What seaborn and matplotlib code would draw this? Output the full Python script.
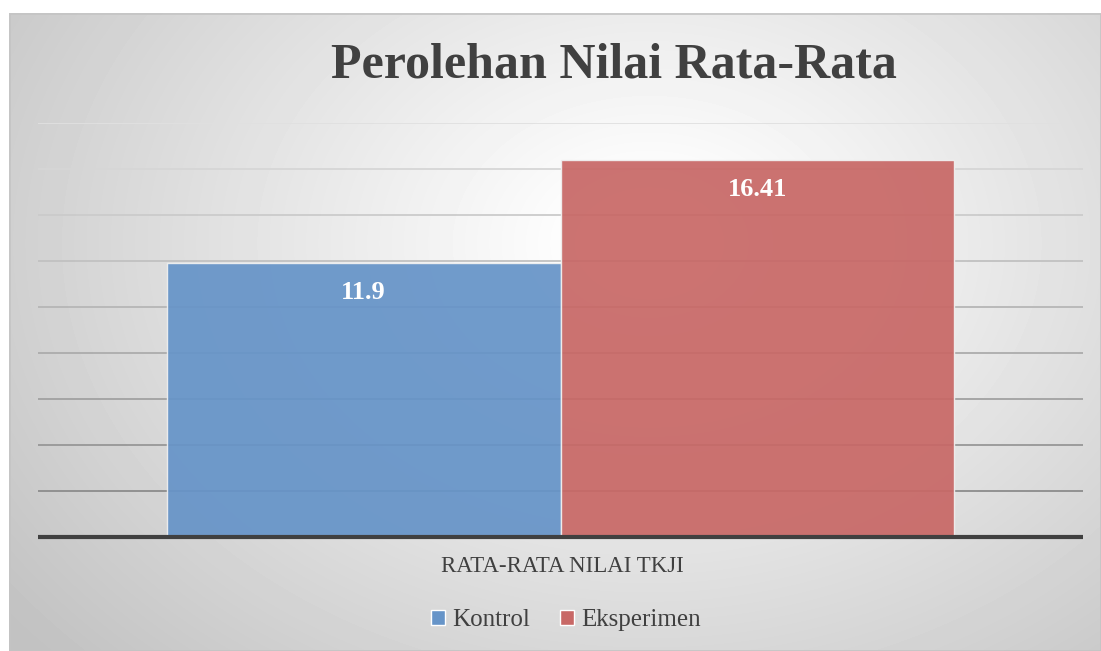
import numpy as np
import pandas as pd
import matplotlib
matplotlib.use("Agg")
import matplotlib.pyplot as plt
import seaborn as sns

# data
kategori = ["RATA-RATA NILAI TKJI"]
kelompok = ["Kontrol", "Eksperimen"]
nilai = [11.9, 16.41]
label_nilai = ["11.9", "16.41"]
warna = ["#6694C8", "#C86866"]

df = pd.DataFrame({
    "kategori": kategori * len(kelompok),
    "kelompok": kelompok,
    "nilai": nilai,
})

sns.set_theme(style="white")
plt.rcParams["font.family"] = ["Liberation Serif", "DejaVu Serif"]

W, H = 1101, 651
fig = plt.figure(figsize=(W / 100, H / 100), dpi=100)
fig.patch.set_facecolor("white")

# latar belakang gradien radial
bg = fig.add_axes([9 / W, 0, (W - 9) / W, (H - 13) / H], zorder=0)
yy, xx = np.mgrid[0:H - 13, 0:W - 9]
d = np.sqrt(((xx - 640) / 1000.0) ** 2 + ((yy - 230) / 750.0) ** 2)
g = np.clip(1.02 - 0.32 * d, 0.76, 1.0)
bg.imshow(g, cmap="gray", vmin=0, vmax=1, aspect="auto", interpolation="bilinear")
bg.set_axis_off()
bg.add_patch(plt.Rectangle((0, 0), W - 10, H - 14, fill=False, edgecolor="#c4c4c4", lw=1.2))

ax = fig.add_axes([38 / W, 114 / H, 1045 / W, 414 / H], zorder=1)
ax.patch.set_alpha(0)

sns.barplot(data=df, x="kategori", y="nilai", hue="kelompok", palette=warna,
            width=0.754, gap=0, saturation=1, ax=ax, legend=False,
            edgecolor="#f0f0f0", linewidth=1, alpha=0.93, zorder=2)

ax.set_xlim(-0.5, 0.5)
ax.set_ylim(0, 18)
ticks = np.arange(2, 19, 2)
grey = np.linspace(0.55, 0.88, len(ticks))
for t, c in zip(ticks, grey):
    ax.axhline(t, color=str(c), lw=1.3, zorder=1)
ax.axhline(0, color="#404040", lw=3, zorder=3, clip_on=False, solid_capstyle="butt")

for p, lab in zip(ax.patches, label_nilai):
    ax.text(p.get_x() + p.get_width() / 2, p.get_height() - 1.28, lab,
            ha="center", va="center", color="white", fontsize=19, fontweight="bold")

ax.set_xticks([])
ax.set_yticks([])
ax.set_xlabel("")
ax.set_ylabel("")
for s in ax.spines.values():
    s.set_visible(False)

fig.text(562 / W, 1 - 567 / H, kategori[0], ha="center", va="center",
         fontsize=16.5, color="#404040")

fig.text(614 / W, 1 - 66 / H, "Perolehan Nilai Rata-Rata", ha="center", va="center",
         fontsize=36, fontweight="bold", color="#404040")

handles = [plt.Rectangle((0, 0), 1, 1, facecolor=c) for c in warna]
fig.legend(handles, kelompok, loc="center", bbox_to_anchor=(566 / W, 1 - 620 / H),
           ncol=2, frameon=False, fontsize=18, handlelength=0.55, handleheight=0.55,
           handletextpad=0.3, columnspacing=1.2, labelcolor="#404040")

fig.savefig("out.png", dpi=100)
